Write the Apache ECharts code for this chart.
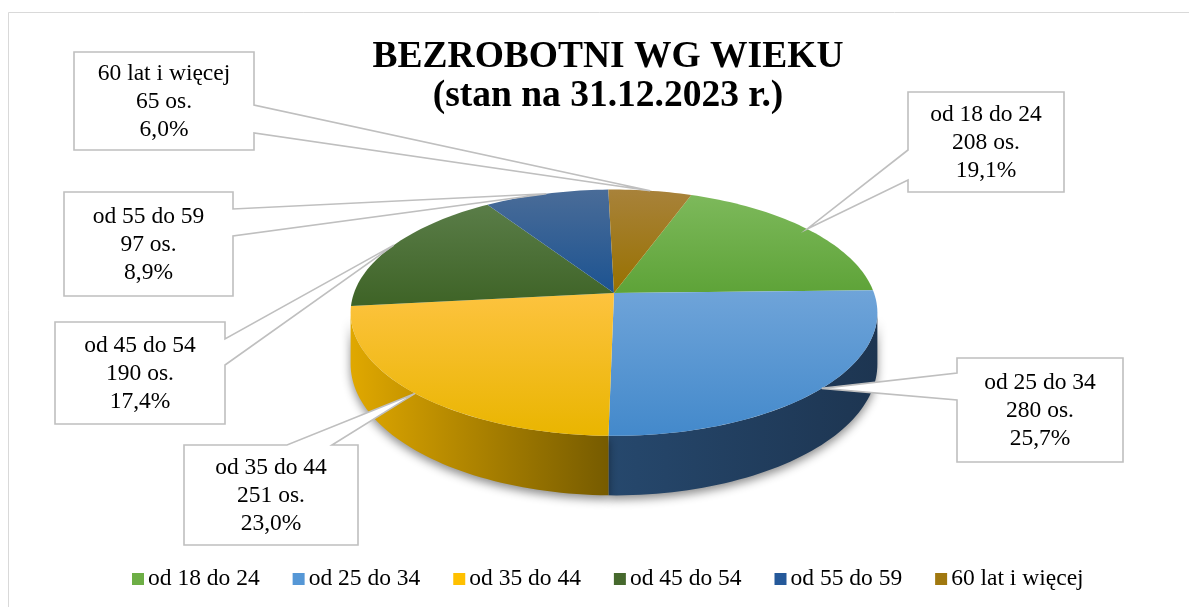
<!DOCTYPE html>
<html>
<head>
<meta charset="utf-8">
<title>Bezrobotni wg wieku</title>
<script src="https://cdn.jsdelivr.net/npm/echarts@6/dist/echarts.min.js"></script>
<style>
  html, body { margin: 0; padding: 0; background: #fff; }
  #chart { width: 1189px; height: 607px; }
</style>
</head>
<body>
<div id="chart"></div>
<script>
// dane
const categories = ["od 18 do 24", "od 25 do 34", "od 35 do 44", "od 45 do 54", "od 55 do 59", "60 lat i więcej"];
const counts = [208, 280, 251, 190, 97, 65];
const unit = "os.";

// kolory
const legendColors = ["#6DAE45", "#5597D6", "#FFC000", "#46692D", "#25599A", "#A0780F"];
const topColors = [
  ["#7DB95B", "#5EA338"],
  ["#6FA4D9", "#4389CB"],
  ["#FDC33F", "#E9B500"],
  ["#5A7D48", "#3E6326"],
  ["#4A6C98", "#1C5391"],
  ["#A8823A", "#987100"]
];
const sideColors = [
  ["#5A9A36", "#3C6A22"],
  ["#26486D", "#1D3551"],
  ["#E0A800", "#765B00"],
  ["#3B5C26", "#2A4219"],
  ["#23507F", "#183A5E"],
  ["#8A6600", "#5E4600"]
];

// ramki etykiet: [x, y, w, h], krawedz, podstawa wskaznika
const labelBoxes = [
  { box: [908, 92, 156, 100], edge: "left", base: [150, 180] },
  { box: [957, 358, 166, 104], edge: "left", base: [373, 400] },
  { box: [184, 445, 174, 100], edge: "top", base: [287, 332] },
  { box: [55, 322, 170, 102], edge: "right", base: [339, 365] },
  { box: [64, 192, 169, 104], edge: "right", base: [209, 236] },
  { box: [74, 52, 180, 98], edge: "right", base: [105, 133] }
];

// geometria tortu 3D
const CX = 614, CY = 293, RX = 260, RY = 120, P = 0.16, DEPTH = 50, START = 20;
const FONT = '"Liberation Serif", "Times New Roman", serif';

const total = counts.reduce((a, b) => a + b, 0);

function sliceAngles(i) {
  let before = 0;
  for (let k = 0; k < i; k++) before += counts[k];
  const a0 = START + before / total * 360;
  return [a0, a0 + counts[i] / total * 360];
}

function project(phi, r, z) {
  const a = phi * Math.PI / 180;
  const s = -Math.cos(a) * r, c = Math.sin(a) * r;
  const f = 1 / (1 - P * s);
  return [CX + RX * c * f, CY + RY * s * f + DEPTH * f * z];
}

function arc(a0, a1, z) {
  const pts = [];
  const n = Math.max(2, Math.ceil(Math.abs(a1 - a0) / 1.5));
  for (let k = 0; k <= n; k++) pts.push(project(a0 + (a1 - a0) * k / n, 1, z));
  return pts;
}

function pct(v) {
  return (v / total * 100).toFixed(1).replace(".", ",") + "%";
}

function renderSide(params, api) {
  const i = params.dataIndex;
  let [a0, a1] = sliceAngles(i);
  const lo = 90 + Math.asin(P) * 180 / Math.PI;
  const hi = 270 - Math.asin(P) * 180 / Math.PI;
  a0 = Math.max(a0, lo);
  a1 = Math.min(a1, hi);
  if (a1 <= a0) return null;
  const pts = arc(a0, a1, 0).concat(arc(a1, a0, 1));
  return {
    type: "polygon",
    shape: { points: pts },
    style: {
      fill: new echarts.graphic.LinearGradient(0, 0, 1, 0, [
        { offset: 0, color: sideColors[i][0] },
        { offset: 1, color: sideColors[i][1] }
      ]),
      shadowBlur: 10,
      shadowColor: "rgba(0,0,0,0.45)",
      shadowOffsetY: 4
    }
  };
}

function renderTop(params, api) {
  const i = params.dataIndex;
  const [a0, a1] = sliceAngles(i);
  const pts = [project(0, 0, 0)].concat(arc(a0, a1, 0));
  return {
    type: "polygon",
    shape: { points: pts },
    style: {
      fill: new echarts.graphic.LinearGradient(0, 0, 0, 1, [
        { offset: 0, color: topColors[i][0] },
        { offset: 1, color: topColors[i][1] }
      ])
    }
  };
}

function renderLabel(params, api) {
  const i = params.dataIndex;
  const [a0, a1] = sliceAngles(i);
  const tip = project((a0 + a1) / 2, 1, 0);
  const lb = labelBoxes[i];
  const [x, y, w, h] = lb.box;
  const [b1, b2] = lb.base;
  let pts;
  if (lb.edge === "right") {
    pts = [[x, y], [x + w, y], [x + w, b1], tip, [x + w, b2], [x + w, y + h], [x, y + h]];
  } else if (lb.edge === "left") {
    pts = [[x, y], [x + w, y], [x + w, y + h], [x, y + h], [x, b2], tip, [x, b1]];
  } else {
    pts = [[x, y], [b1, y], tip, [b2, y], [x + w, y], [x + w, y + h], [x, y + h]];
  }
  return {
    type: "group",
    children: [
      {
        type: "polygon",
        shape: { points: pts },
        style: { fill: "#fff", stroke: "#BFBFBF", lineWidth: 1.6 }
      },
      {
        type: "text",
        style: {
          text: categories[i] + "\n" + api.value(0) + " " + unit + "\n" + pct(api.value(0)),
          x: x + w / 2,
          y: y + h / 2 + 1,
          align: "center",
          verticalAlign: "middle",
          fontFamily: FONT,
          fontSize: 23.5,
          lineHeight: 28,
          fill: "#000"
        }
      }
    ]
  };
}

const chart = echarts.init(document.getElementById("chart"), null, { renderer: "canvas" });

chart.setOption({
  backgroundColor: "#fff",
  animation: false,
  title: {
    text: "BEZROBOTNI WG WIEKU\n(stan na 31.12.2023 r.)",
    left: 603,
    top: 33,
    textAlign: "center",
    textStyle: {
      fontFamily: FONT,
      fontSize: 37.5,
      fontWeight: "bold",
      lineHeight: 39,
      color: "#000"
    }
  },
  legend: {
    left: 127,
    top: 562,
    icon: "rect",
    itemWidth: 12,
    itemHeight: 12,
    itemGap: 33,
    data: categories,
    textStyle: { fontFamily: FONT, fontSize: 23.5, color: "#000", padding: [0, 0, 0, -1] }
  },
  graphic: [
    {
      type: "rect",
      z: -10,
      shape: { x: 8.5, y: 12.5, width: 1300, height: 700 },
      style: { fill: "#fff", stroke: "#D9D9D9", lineWidth: 1 }
    }
  ],
  series: [
    {
      // tylko dla legendy
      type: "pie",
      radius: [0, 0],
      center: [CX, CY],
      silent: true,
      label: { show: false },
      labelLine: { show: false },
      data: categories.map((name, i) => ({
        name: name,
        value: counts[i],
        itemStyle: { color: legendColors[i] }
      }))
    },
    {
      type: "custom",
      coordinateSystem: "none",
      silent: true,
      z: 2,
      renderItem: renderSide,
      data: counts
    },
    {
      type: "custom",
      coordinateSystem: "none",
      silent: true,
      z: 3,
      renderItem: renderTop,
      data: counts
    },
    {
      type: "custom",
      coordinateSystem: "none",
      silent: true,
      z: 4,
      renderItem: renderLabel,
      data: counts
    }
  ]
});
</script>
</body>
</html>
